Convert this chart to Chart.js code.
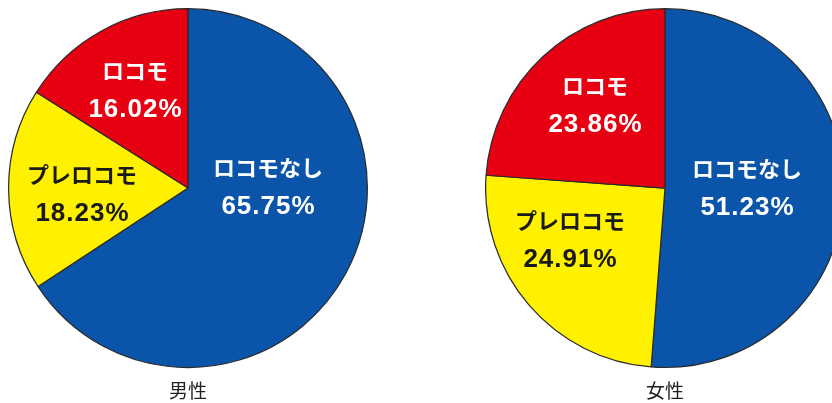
<!DOCTYPE html>
<html>
<head>
<meta charset="utf-8">
<script src="https://cdn.jsdelivr.net/npm/chart.js"></script>
<style>
  html, body {
    margin: 0;
    padding: 0;
    background: #fff;
    width: 832px;
    height: 403px;
    overflow: hidden;
  }
  .pie {
    position: absolute;
    top: 8px;
  }
</style>
</head>
<body>
<canvas id="male" class="pie" width="360" height="395" style="left:8px"></canvas>
<canvas id="female" class="pie" width="360" height="395" style="left:485px"></canvas>

<script>
  // clockwise from 12 o'clock
  const categories = ["ロコモなし", "プレロコモ", "ロコモ"];
  const maleValues = [65.75, 18.23, 16.02];
  const femaleValues = [51.23, 24.91, 23.86];

  const sliceColors = ["#0a55aa", "#fff100", "#e60012"];
  const textColors = ["#ffffff", "#1a1a1a", "#ffffff"];

  // label block centre, relative to the pie centre
  const maleLabelPos = [[80, -1], [-106, 6], [-53, -98]];
  const femaleLabelPos = [[82, 0], [-95, 52], [-70, -83]];

  const sliceLabels = {
    id: "sliceLabels",
    afterDatasetsDraw(chart, args, opts) {
      const ctx = chart.ctx;
      const meta = chart.getDatasetMeta(0);
      const values = chart.data.datasets[0].data;
      ctx.save();
      ctx.textAlign = "center";
      ctx.textBaseline = "middle";
      meta.data.forEach((arc, i) => {
        const [dx, dy] = opts.pos[i];
        const x = arc.x + dx;
        const y = arc.y + dy;
        ctx.fillStyle = textColors[i];
        ctx.letterSpacing = "0px";
        ctx.font = "bold 22px 'Noto Sans CJK JP', sans-serif";
        ctx.fillText(chart.data.labels[i], x, y - 19);
        ctx.letterSpacing = "1px";
        ctx.font = "bold 26px 'Liberation Sans', sans-serif";
        ctx.fillText(values[i].toFixed(2) + "%", x + 0.5, y + 20);
      });
      ctx.restore();
    }
  };

  function makePie(id, values, title, labelPos) {
    new Chart(document.getElementById(id), {
      type: "pie",
      data: {
        labels: categories,
        datasets: [{
          data: values,
          backgroundColor: sliceColors,
          borderColor: "#2a2a2a",
          borderWidth: 1.2,
        }],
      },
      options: {
        responsive: false,
        animation: false,
        layout: { padding: 0 },
        plugins: {
          legend: { display: false },
          tooltip: { enabled: false },
          title: {
            display: true,
            text: title,
            position: "bottom",
            color: "#222",
            font: { family: "'Noto Sans CJK JP', sans-serif", size: 19, weight: "normal" },
            padding: { top: 11, bottom: 1 },
          },
          sliceLabels: { pos: labelPos },
        },
      },
      plugins: [sliceLabels],
    });
  }

  makePie("male", maleValues, "男性", maleLabelPos);
  makePie("female", femaleValues, "女性", femaleLabelPos);
</script>
</body>
</html>
